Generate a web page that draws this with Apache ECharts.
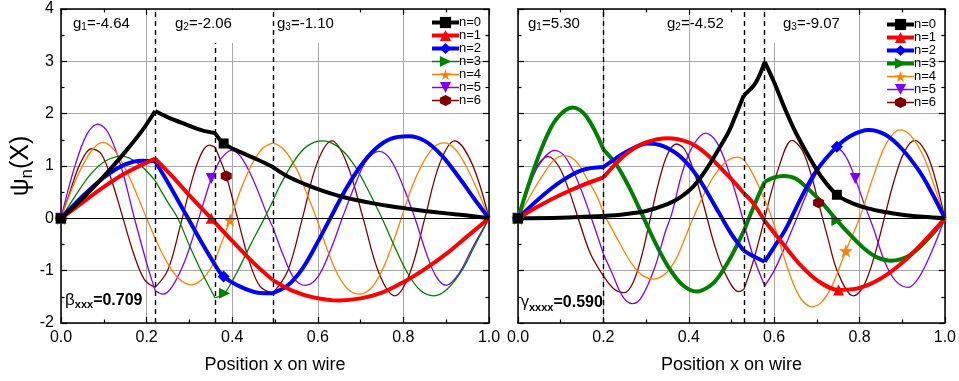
<!DOCTYPE html>
<html>
<head>
<meta charset="utf-8">
<script src="https://cdn.jsdelivr.net/npm/echarts@6/dist/echarts.min.js"></script>
<style>
html,body{margin:0;padding:0;background:#fff;}
#chart{width:959px;height:381px;}
</style>
</head>
<body>
<div id="chart"></div>
<script>
// ---------------- data ----------------
const seriesLabels = ['n=0','n=1','n=2','n=3','n=4','n=5','n=6'];
const xTicks = [0, 0.2, 0.4, 0.6, 0.8, 1.0];
const yTicks = [-2, -1, 0, 1, 2, 3, 4];

const leftKinks = [0.22, 0.36, 0.495];
const rightKinks = [0.2, 0.529, 0.578];
const leftDashTop = [4, 3.35, 4];
const rightDashTop = [4, 4, 4];
const leftCoupling = ['-4.64', '-2.06', '-1.10'];
const rightCoupling = ['5.30', '-4.52', '-9.07'];
const leftMarkX = [0.38, 0.351, 0.38, 0.382, 0.395, 0.351, 0.386];
const rightMarkX = [0.747, 0.751, 0.747, 0.747, 0.768, 0.79, 0.704];

// left panel (beta_xxx = 0.709)
const L0 = [[0,0],[0.05,0.38],[0.1,0.80],[0.15,1.27],[0.19,1.68],[0.22,2.05],[0.25,1.93],[0.29,1.80],[0.33,1.68],[0.36,1.63],[0.38,1.43],[0.418,1.27],[0.46,1.12],[0.495,0.98],[0.53,0.80],[0.571,0.65],[0.61,0.53],[0.649,0.43],[0.69,0.35],[0.727,0.29],[0.77,0.23],[0.805,0.19],[0.85,0.14],[0.882,0.11],[0.92,0.08],[0.96,0.045],[1,0]];
const L1 = [[0,0],[0.05,0.30],[0.1,0.60],[0.15,0.86],[0.22,1.14],[0.26,0.80],[0.30,0.44],[0.351,0.0],[0.36,-0.08],[0.40,-0.43],[0.45,-0.85],[0.495,-1.18],[0.54,-1.38],[0.59,-1.51],[0.65,-1.57],[0.70,-1.53],[0.75,-1.42],[0.80,-1.22],[0.85,-0.97],[0.90,-0.68],[0.95,-0.34],[1,0]];
const L2 = [[0,0],[0.05,0.42],[0.1,0.78],[0.15,1.03],[0.19,1.10],[0.22,1.09],[0.25,0.68],[0.29,0.10],[0.33,-0.48],[0.36,-0.89],[0.38,-1.11],[0.42,-1.31],[0.46,-1.42],[0.495,-1.43],[0.53,-1.28],[0.565,-0.95],[0.6,-0.45],[0.629,0],[0.665,0.55],[0.70,1.0],[0.735,1.33],[0.77,1.52],[0.812,1.57],[0.85,1.48],[0.89,1.20],[0.93,0.78],[0.965,0.38],[1,0]];
const L3 = [[0,0],[0.035,0.45],[0.07,0.85],[0.105,1.10],[0.141,1.19],[0.18,1.05],[0.22,0.72],[0.25,0.30],[0.273,0],[0.30,-0.52],[0.33,-1.05],[0.36,-1.52],[0.382,-1.43],[0.41,-1.05],[0.44,-0.55],[0.475,0],[0.495,0.33],[0.51,0.60],[0.545,1.10],[0.575,1.38],[0.61,1.48],[0.645,1.38],[0.68,1.08],[0.715,0.58],[0.75,0],[0.78,-0.55],[0.81,-1.05],[0.84,-1.38],[0.871,-1.48],[0.90,-1.37],[0.935,-1.02],[0.965,-0.55],[1,0]];
const L4 = [[0,0],[0.025,0.55],[0.05,1.0],[0.075,1.33],[0.098,1.45],[0.125,1.30],[0.15,0.95],[0.175,0.50],[0.20,0],[0.22,-0.38],[0.245,-0.80],[0.275,-1.15],[0.305,-1.27],[0.335,-1.12],[0.36,-0.80],[0.395,-0.03],[0.42,0.55],[0.445,1.02],[0.47,1.33],[0.495,1.44],[0.52,1.32],[0.55,0.95],[0.575,0.46],[0.597,0],[0.62,-0.55],[0.645,-1.05],[0.67,-1.35],[0.697,-1.45],[0.725,-1.33],[0.75,-1.0],[0.772,-0.55],[0.795,0],[0.82,0.6],[0.845,1.05],[0.87,1.35],[0.895,1.44],[0.92,1.33],[0.945,1.02],[0.975,0.5],[1,0]];
const L5 = [[0,0],[0.03,0.93],[0.06,1.60],[0.086,1.80],[0.11,1.64],[0.14,1.0],[0.17,0.05],[0.2,-0.85],[0.22,-1.38],[0.238,-1.45],[0.26,-1.30],[0.29,-0.80],[0.32,-0.05],[0.351,0.76],[0.36,0.92],[0.375,1.15],[0.398,1.30],[0.42,1.18],[0.45,0.72],[0.485,0.0],[0.495,-0.17],[0.52,-0.72],[0.545,-1.15],[0.571,-1.28],[0.6,-1.12],[0.63,-0.60],[0.657,0],[0.69,0.70],[0.715,1.12],[0.744,1.28],[0.77,1.12],[0.80,0.60],[0.827,0],[0.855,-0.70],[0.877,-1.12],[0.90,-1.28],[0.93,-1.05],[0.96,-0.58],[1,0]];
const L6 = [[0,0],[0.02,0.48],[0.045,1.05],[0.071,1.33],[0.095,1.22],[0.12,0.68],[0.145,0.0],[0.17,-0.68],[0.195,-1.17],[0.22,-1.32],[0.25,-0.98],[0.28,-0.10],[0.31,0.84],[0.33,1.27],[0.347,1.40],[0.36,1.36],[0.386,0.81],[0.41,0.08],[0.44,-0.82],[0.465,-1.30],[0.495,-1.43],[0.53,-1.0],[0.564,0],[0.598,1.05],[0.633,1.48],[0.668,1.05],[0.706,0],[0.743,-1.05],[0.78,-1.48],[0.815,-1.05],[0.85,0],[0.885,1.05],[0.92,1.48],[0.96,1.05],[1,0]];

// right panel (gamma_xxxx = 0.590)
const R0 = [[0,0],[0.1,0.012],[0.2,0.045],[0.25,0.08],[0.3,0.14],[0.35,0.27],[0.38,0.40],[0.41,0.60],[0.44,0.92],[0.47,1.32],[0.494,1.66],[0.51,1.97],[0.529,2.35],[0.556,2.58],[0.578,2.99],[0.60,2.60],[0.625,2.10],[0.65,1.65],[0.68,1.20],[0.71,0.80],[0.747,0.45],[0.78,0.30],[0.82,0.19],[0.86,0.12],[0.9,0.07],[0.95,0.03],[1,0]];
const R1 = [[0,0],[0.05,0.24],[0.1,0.45],[0.15,0.63],[0.2,0.78],[0.23,1.05],[0.26,1.27],[0.3,1.45],[0.35,1.53],[0.4,1.45],[0.44,1.24],[0.494,0.80],[0.529,0.48],[0.55,0.30],[0.578,-0.05],[0.62,-0.48],[0.66,-0.88],[0.70,-1.18],[0.751,-1.37],[0.80,-1.33],[0.85,-1.15],[0.9,-0.85],[0.95,-0.45],[1,0]];
const R2 = [[0,0],[0.05,0.38],[0.1,0.70],[0.15,0.92],[0.2,0.98],[0.23,1.15],[0.26,1.30],[0.303,1.43],[0.34,1.38],[0.38,1.18],[0.42,0.80],[0.471,0.10],[0.5,-0.30],[0.529,-0.62],[0.555,-0.74],[0.578,-0.83],[0.6,-0.55],[0.626,-0.22],[0.665,0.42],[0.70,0.92],[0.747,1.37],[0.78,1.58],[0.821,1.69],[0.86,1.60],[0.9,1.32],[0.94,0.90],[0.97,0.48],[1,0]];
const R3 = [[0,0],[0.03,0.77],[0.06,1.43],[0.09,1.90],[0.128,2.12],[0.16,1.95],[0.2,1.32],[0.23,1.03],[0.26,0.60],[0.295,0],[0.32,-0.44],[0.35,-0.90],[0.385,-1.27],[0.419,-1.40],[0.45,-1.29],[0.47,-1.12],[0.5,-0.72],[0.529,-0.24],[0.555,0.28],[0.578,0.70],[0.60,0.78],[0.622,0.81],[0.65,0.76],[0.68,0.56],[0.71,0.32],[0.747,-0.04],[0.78,-0.33],[0.81,-0.57],[0.84,-0.74],[0.875,-0.81],[0.91,-0.74],[0.94,-0.56],[0.97,-0.31],[1,0]];
const R4 = [[0,0],[0.03,0.45],[0.06,0.85],[0.085,1.12],[0.108,1.20],[0.135,1.10],[0.16,0.78],[0.185,0.42],[0.2,0.10],[0.24,-0.50],[0.265,-0.85],[0.29,-1.08],[0.318,-1.16],[0.345,-1.06],[0.37,-0.78],[0.39,-0.40],[0.41,0],[0.435,0.45],[0.46,0.82],[0.49,1.10],[0.515,1.17],[0.529,1.12],[0.55,0.85],[0.578,0.35],[0.595,0],[0.62,-0.66],[0.645,-1.25],[0.665,-1.56],[0.689,-1.69],[0.71,-1.61],[0.735,-1.30],[0.768,-0.62],[0.80,0],[0.83,0.74],[0.855,1.30],[0.875,1.58],[0.895,1.69],[0.92,1.58],[0.95,1.18],[0.975,0.62],[1,0]];
const R5 = [[0,0],[0.025,0.58],[0.05,1.03],[0.086,1.30],[0.11,1.18],[0.14,0.71],[0.172,0],[0.2,-0.68],[0.22,-1.04],[0.245,-1.49],[0.268,-1.63],[0.29,-1.50],[0.32,-0.95],[0.345,-0.26],[0.36,0.08],[0.385,0.88],[0.41,1.39],[0.44,1.63],[0.465,1.46],[0.494,0.89],[0.529,-0.08],[0.55,-0.70],[0.578,-1.29],[0.60,-1.0],[0.625,-0.55],[0.653,0],[0.689,0.70],[0.72,1.12],[0.751,1.32],[0.77,1.15],[0.79,0.76],[0.81,0.30],[0.833,-0.20],[0.86,-0.85],[0.885,-1.20],[0.914,-1.32],[0.94,-1.12],[0.97,-0.62],[1,0]];
const R6 = [[0,0],[0.02,0.51],[0.045,1.0],[0.07,1.18],[0.095,1.0],[0.12,0.52],[0.145,-0.10],[0.17,-0.68],[0.2,-1.10],[0.225,-1.35],[0.249,-1.42],[0.27,-1.22],[0.29,-0.71],[0.31,0],[0.33,0.70],[0.35,1.22],[0.371,1.42],[0.39,1.32],[0.41,0.95],[0.435,0.25],[0.46,-0.50],[0.485,-1.05],[0.517,-1.40],[0.529,-1.36],[0.55,-0.85],[0.578,0.0],[0.61,0.95],[0.642,1.49],[0.665,1.31],[0.685,0.88],[0.704,0.30],[0.725,-0.35],[0.75,-1.05],[0.786,-1.48],[0.81,-1.29],[0.835,-0.72],[0.858,0],[0.88,0.69],[0.905,1.27],[0.93,1.49],[0.955,1.27],[0.975,0.83],[1,0]];

// ---------------- styles ----------------
const FONT = '"Liberation Sans", Arial, Helvetica, sans-serif';
const COLORS = ['#000000', '#ff0000', '#0000ff', '#008000', '#ff8000', '#8000ff', '#800000'];
const STAR = 'path://M50,0 L61,35 L98,35 L68,57 L79,91 L50,70 L21,91 L32,57 L2,35 L39,35 Z';
const HEX = 'path://M50,0 L93,25 L93,75 L50,100 L7,75 L7,25 Z';
const SYMBOLS = ['rect', 'triangle', 'diamond', 'triangle', STAR, 'triangle', HEX];
const ROTATE = [0, 0, 0, -90, 0, 180, 0];
const SYMSIZE = [10, 11, 12, 11, 14, 11, 11];
const leftWidths = [4, 4, 4, 1.3, 1.3, 1.3, 1.3];
const rightWidths = [4, 4, 4, 4, 1.3, 1.3, 1.3];

const GRID_L = {left: 61, top: 9, width: 428, height: 314};
const GRID_R = {left: 518, top: 9, width: 428.5, height: 314};

const chart = echarts.init(document.getElementById('chart'), null, {renderer: 'canvas'});

function splitSegments(pts, kinks) {
  const bounds = [0].concat(kinks, [1]);
  const segs = [];
  for (let s = 0; s < bounds.length - 1; s++) {
    const a = bounds[s], b = bounds[s + 1];
    let idx = [];
    pts.forEach((p, i) => { if (p[0] >= a - 1e-9 && p[0] <= b + 1e-9) idx.push(i); });
    if (!idx.length) continue;
    if (Math.abs(pts[idx[0]][0] - a) > 1e-9 && idx[0] > 0) idx.unshift(idx[0] - 1);
    const last = idx[idx.length - 1];
    if (Math.abs(pts[last][0] - b) > 1e-9 && last < pts.length - 1) idx.push(last + 1);
    segs.push(idx.map(i => pts[i]));
  }
  return segs;
}

function panelSeries(prefix, arrays, kinks, markX, widths, axisIdx) {
  const out = [];
  for (let i = arrays.length - 1; i >= 0; i--) {
    const segs = splitSegments(arrays[i], kinks);
    segs.forEach((seg, si) => {
      const data = seg.map(p => {
        const isMark = (p[0] === 0 && si === 0) || Math.abs(p[0] - markX[i]) < 1e-9;
        return isMark ? {value: p} : {value: p, symbol: 'none'};
      });
      out.push({
        type: 'line',
        name: prefix + '|' + seriesLabels[i],
        xAxisIndex: axisIdx, yAxisIndex: axisIdx,
        data: data,
        smooth: 0.35,
        showSymbol: true,
        symbol: SYMBOLS[i],
        symbolSize: SYMSIZE[i],
        symbolRotate: ROTATE[i],
        lineStyle: {color: COLORS[i], width: widths[i]},
        itemStyle: {color: COLORS[i], borderWidth: 0},
        emphasis: {disabled: true},
        silent: true,
        animation: false,
        z: 3
      });
    });
  }
  return out;
}

function helperSeries(axisIdx, kinks, dashTop) {
  const ml = [{yAxis: 0, lineStyle: {color: '#000', width: 1, type: 'solid'}}];
  kinks.forEach((k, j) => {
    ml.push([{coord: [k, -2], lineStyle: {color: '#000', width: 1.4, type: [5, 4]}}, {coord: [k, dashTop[j]]}]);
  });
  return {
    type: 'line', name: 'helper' + axisIdx,
    xAxisIndex: axisIdx, yAxisIndex: axisIdx,
    data: [[0, 0]], symbol: 'none', lineStyle: {width: 0},
    silent: true, animation: false, z: 2,
    markLine: {symbol: 'none', silent: true, animation: false, label: {show: false}, data: ml}
  };
}

function xAxes(gridIndex) {
  const base = {
    type: 'value', gridIndex, min: 0, max: 1, interval: 0.2,
    axisLine: {show: true, onZero: false, lineStyle: {color: '#000', width: 1.5}},
    axisTick: {show: true, inside: true, length: 6, lineStyle: {color: '#000', width: 1.2}},
    minorTick: {show: true, splitNumber: 2, length: 3.5, lineStyle: {color: '#000', width: 1.2}},
  };
  return [
    Object.assign({}, base, {
      position: 'bottom',
      splitLine: {show: true, lineStyle: {color: '#a8a8a8', width: 1}},
      axisLabel: {show: true, formatter: v => v.toFixed(1), fontSize: 16, color: '#000', fontFamily: FONT, margin: 7},
      name: 'Position x on wire', nameLocation: 'middle', nameGap: 33,
      nameTextStyle: {fontSize: 18, color: '#000', fontFamily: FONT}
    }),
    Object.assign({}, base, {
      position: 'top',
      splitLine: {show: false},
      axisLabel: {show: false}
    })
  ];
}

function yAxes(gridIndex, showLabels) {
  const base = {
    type: 'value', gridIndex, min: -2, max: 4, interval: 1,
    axisLine: {show: true, onZero: false, lineStyle: {color: '#000', width: 1.5}},
    axisTick: {show: true, inside: true, length: 6, lineStyle: {color: '#000', width: 1.2}},
    minorTick: {show: true, splitNumber: 2, length: 3.5, lineStyle: {color: '#000', width: 1.2}},
  };
  const left = Object.assign({}, base, {
    position: 'left',
    splitLine: {show: true, lineStyle: {color: '#a8a8a8', width: 1}},
    axisLabel: {show: showLabels, fontSize: 16, color: '#000', fontFamily: FONT, margin: 7}
  });
  if (showLabels) {
    Object.assign(left, {
      name: '{a|ψ}{s|n}{a|(X)}', nameLocation: 'middle', nameRotate: 90, nameGap: 23,
      nameTextStyle: {color: '#000', fontFamily: FONT, rich: {
        a: {fontSize: 25, fontFamily: FONT, color: '#000'},
        s: {fontSize: 17, fontFamily: FONT, color: '#000', padding: [13, 0, 0, 0]}
      }}
    });
  }
  const right = Object.assign({}, base, {
    position: 'right', splitLine: {show: false}, axisLabel: {show: false}
  });
  return [left, right];
}

function gLabel(x, idx, val) {
  return {
    type: 'text', left: x, top: 16, z: 5,
    style: {
      text: '{a|g}{s|' + idx + '}{a|=' + val + '}',
      rich: {
        a: {fontSize: 15, fontFamily: FONT, fill: '#000'},
        s: {fontSize: 10, fontFamily: FONT, fill: '#000', padding: [8, 0, 0, 0]}
      }
    }
  };
}

function whiteBox(x, w) {
  return {type: 'rect', shape: {x: x, y: 10, width: w, height: 33}, style: {fill: '#fff'}, z: 1, silent: true};
}

function legendFor(prefix, widths, left, top) {
  return {
    orient: 'vertical', left: left, top: top,
    itemWidth: 27, itemHeight: 14, itemGap: 0,
    selectedMode: false,
    formatter: name => name.split('|')[1],
    textStyle: {fontSize: 13, fontFamily: FONT, color: '#000', padding: [0, 0, 0, -5]},
    data: seriesLabels.map((s, i) => ({
      name: prefix + '|' + s,
      lineStyle: {width: widths[i] > 2 ? 4 : 1.5}
    }))
  };
}

const series = [].concat(
  [helperSeries(0, leftKinks, leftDashTop), helperSeries(2, rightKinks, rightDashTop)],
  panelSeries('L', [L0, L1, L2, L3, L4, L5, L6], leftKinks, leftMarkX, leftWidths, 0),
  panelSeries('R', [R0, R1, R2, R3, R4, R5, R6], rightKinks, rightMarkX, rightWidths, 2)
);

const option = {
  backgroundColor: '#fff',
  animation: false,
  textStyle: {fontFamily: FONT},
  grid: [
    Object.assign({containLabel: false}, GRID_L),
    Object.assign({containLabel: false}, GRID_R)
  ],
  xAxis: [].concat(xAxes(0), xAxes(1)),
  yAxis: [].concat(yAxes(0, true), yAxes(1, false)),
  legend: [legendFor('L', leftWidths, 425, 11), legendFor('R', rightWidths, 880, 13)],
  graphic: [
    whiteBox(168, 72), whiteBox(275, 62), whiteBox(770, 75),
    gLabel(73, 1, leftCoupling[0]), gLabel(175, 2, leftCoupling[1]), gLabel(277, 3, leftCoupling[2]),
    gLabel(528, 1, rightCoupling[0]), gLabel(667, 2, rightCoupling[1]), gLabel(783, 3, rightCoupling[2]),
    {type: 'text', left: 65, top: 292, z: 5, style: {
      text: '{b|β}{s|xxx}{v|=0.709}',
      rich: {
        b: {fontSize: 17, fontFamily: FONT, fill: '#000'},
        s: {fontSize: 11, fontWeight: 'bold', fontFamily: FONT, fill: '#000', padding: [9, 0, 0, 0]},
        v: {fontSize: 16, fontWeight: 'bold', fontFamily: FONT, fill: '#000'}
      }}},
    {type: 'text', left: 521, top: 295, z: 5, style: {
      text: '{b|γ}{s|xxxx}{v|=0.590}',
      rich: {
        b: {fontSize: 16, fontFamily: FONT, fill: '#000'},
        s: {fontSize: 11, fontWeight: 'bold', fontFamily: FONT, fill: '#000', padding: [9, 0, 0, 0]},
        v: {fontSize: 16, fontWeight: 'bold', fontFamily: FONT, fill: '#000'}
      }}}
  ],
  series: series
};
chart.setOption(option);
</script>
</body>
</html>
